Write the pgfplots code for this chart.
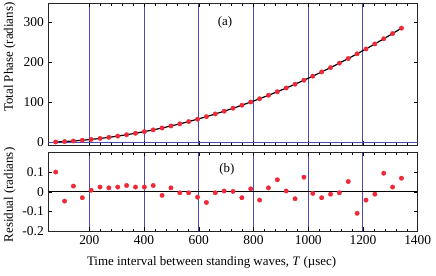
\documentclass[border=0pt]{standalone}
\usepackage{fontspec}
\setmainfont{Liberation Serif}
\usepackage{pgfplots}
\usepackage{pgfplotstable}
\pgfplotsset{compat=1.18}
\definecolor{gridblue}{RGB}{75,75,175}
\definecolor{dotred}{RGB}{240,40,55}

\pgfplotstableread{
T phase fit resid
77.0 0.5 0.50 0.100
109.4 1.6 1.64 -0.047
141.8 3.1 3.11 0.029
174.2 4.9 4.90 -0.030
206.6 7.0 7.02 0.008
239.0 9.5 9.46 0.024
271.4 12.2 12.23 0.020
303.8 15.3 15.32 0.024
336.2 18.7 18.74 0.032
368.6 22.5 22.48 0.024
401.0 26.5 26.54 0.024
433.4 30.9 30.93 0.032
465.8 35.6 35.65 -0.018
498.2 40.7 40.69 0.020
530.6 46.0 46.05 -0.005
563.0 51.7 51.75 -0.005
595.4 57.7 57.76 -0.027
627.8 64.0 64.10 -0.054
660.2 70.8 70.76 -0.005
692.6 77.7 77.74 0.004
725.0 85.1 85.06 0.002
757.4 92.7 92.69 -0.030
789.8 100.7 100.65 0.015
822.2 108.9 108.94 -0.042
854.6 117.6 117.55 0.020
887.0 126.5 126.49 0.061
919.4 135.8 135.75 0.004
951.8 145.3 145.34 -0.035
984.2 155.3 155.24 0.074
1016.6 165.5 165.48 -0.008
1049.0 176.0 176.04 -0.030
1081.4 186.9 186.92 -0.012
1113.8 198.1 198.13 -0.005
1146.2 209.7 209.66 0.052
1178.6 221.4 221.51 -0.109
1211.0 233.7 233.71 -0.042
1243.4 246.2 246.21 -0.012
1275.8 259.1 259.04 0.094
1308.2 272.2 272.20 0.024
1340.6 285.7 285.68 0.069
}\datatable

\begin{document}
\fontsize{13}{15}\selectfont
\begin{tikzpicture}[x=1bp,y=1bp]
\useasboundingbox (0,0) rectangle (436,275);
\pgfplotsset{
  every axis/.append style={
    scale only axis, width=369.4bp, xmin=50, xmax=1400,
    /pgf/number format/assume math mode=true,
    /pgf/number format/set thousands separator={},
    tick align=inside, minor x tick num=4,
    xtick={200,400,...,1400},
    xmajorgrids, grid style={gridblue, line width=1bp},
    tick style={black, line width=0.5pt},
    major tick length=4bp, minor tick length=2.5bp,
    axis line style={line width=0.9pt, black!85},
    ticklabel style={font=\fontsize{13.5}{15}\selectfont},
    label style={font=\fontsize{13}{15}\selectfont},
  }
}
\begin{axis}[at={(48.3bp,130bp)}, anchor=south west, height=141.7bp,
  ymin=-7, ymax=348, ytick={0,100,200,300}, xticklabels={},
  ylabel={Total Phase (radians)},
  ylabel style={at={(axis description cs:-0.104,0.62)}, anchor=center}]
  \addplot[gridblue, line width=1bp, forget plot] coordinates {(50,0) (1400,0)};
  \addplot[black, line width=1.2pt, smooth] table[x=T, y=fit] {\datatable};
  \addplot[only marks, mark=*, mark size=2.2bp, color=dotred] table[x=T, y=phase] {\datatable};
  \node at (axis cs:696,300) {(a)};
\end{axis}
\begin{axis}[at={(48.3bp,43.7bp)}, anchor=south west, height=79bp,
  ymin=-0.2, ymax=0.2, ytick={-0.2,-0.1,0,0.1},
  yticklabel style={/pgf/number format/fixed},
  ylabel={Residual (radians)},
  ylabel style={at={(axis description cs:-0.104,0.46)}, anchor=center},
  xlabel={Time interval between standing waves, \textit{T} (µsec)},
  xlabel style={at={(axis description cs:0.442,-0.39)}, anchor=center}]
  \addplot[black, line width=0.8pt, forget plot] coordinates {(50,0) (1400,0)};
  \addplot[only marks, mark=*, mark size=2.2bp, color=dotred] table[x=T, y=resid] {\datatable};
  \node at (axis cs:703,0.113) {(b)};
\end{axis}
\end{tikzpicture}
\end{document}
